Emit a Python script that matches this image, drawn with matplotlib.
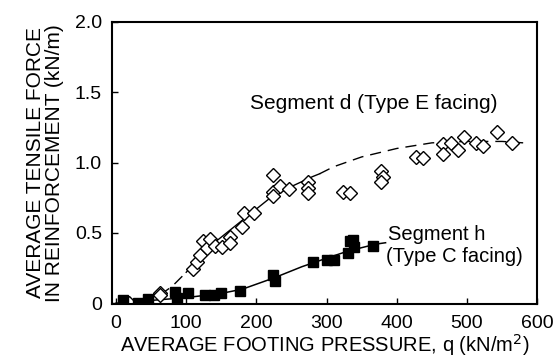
import numpy as np
import matplotlib
matplotlib.use("Agg")
import matplotlib.pyplot as plt

plt.rcParams['font.family'] = ['Liberation Sans', 'DejaVu Sans']

# Segment d (Type E facing) - open diamonds
d_q = [19, 63, 63, 110, 116, 120, 124, 130, 134, 141, 151, 163, 163, 179, 183, 196,
       223, 224, 224, 234, 246, 273, 274, 274, 324, 334, 377, 380, 377, 427, 437,
       466, 466, 477, 487, 496, 513, 523, 543, 564]
d_t = [0.00, 0.07, 0.06, 0.24, 0.29, 0.34, 0.44, 0.39, 0.46, 0.41, 0.40, 0.47, 0.43,
       0.54, 0.64, 0.64, 0.91, 0.79, 0.76, 0.83, 0.81, 0.86, 0.82, 0.78, 0.79, 0.78,
       0.94, 0.90, 0.86, 1.04, 1.03, 1.13, 1.06, 1.14, 1.09, 1.18, 1.14, 1.12, 1.22, 1.14]

# Segment h (Type C facing) - filled squares
h_q = [10, 31, 46, 84, 87, 103, 127, 139, 149, 177, 224, 227, 280, 301, 310, 330,
       334, 337, 339, 366]
h_t = [0.02, 0.00, 0.03, 0.08, 0.04, 0.07, 0.06, 0.06, 0.07, 0.09, 0.20, 0.16, 0.29,
       0.31, 0.31, 0.36, 0.44, 0.45, 0.40, 0.41]

# trend lines
d_line_q = [40, 60, 80, 100, 120, 140, 160, 180, 200, 220, 250, 280, 290, 310, 350,
            400, 450, 500, 550, 580]
d_line_t = [0.00, 0.05, 0.12, 0.22, 0.33, 0.43, 0.51, 0.59, 0.67, 0.75, 0.83, 0.90,
            0.92, 0.97, 1.04, 1.10, 1.14, 1.15, 1.15, 1.14]
h_line_q = [0, 50, 100, 150, 180, 225, 265, 300, 330, 370, 384]
h_line_t = [0.00, 0.02, 0.04, 0.07, 0.10, 0.18, 0.26, 0.32, 0.37, 0.42, 0.43]

fig = plt.figure(figsize=(5.59, 3.64), dpi=100)
ax = fig.add_axes([0.200, 0.165, 0.761, 0.775])

dash = (0, (8, 5))
# dashed where no data, solid through the measured points
ax.plot(d_line_q[:4], d_line_t[:4], color='black', lw=1.0, ls=dash)
ax.plot(d_line_q[3:13], d_line_t[3:13], color='black', lw=1.0)
ax.plot(d_line_q[12:], d_line_t[12:], color='black', lw=1.0, ls=dash)
ax.plot(h_line_q, h_line_t, color='black', lw=1.1)

ax.plot(d_q, d_t, 'D', mfc='white', mec='black', mew=1.0, ms=7.5, ls='none')
ax.plot(h_q, h_t, 's', mfc='black', mec='black', ms=7, ls='none')

ax.text(191, 1.42, 'Segment d (Type E facing)', fontsize=15, va='center')
ax.text(388, 0.485, 'Segment h', fontsize=14.5, va='center')
ax.text(385, 0.33, '(Type C facing)', fontsize=14.5, va='center')

ax.set_xlim(-6, 600)
ax.set_ylim(-0.005, 2.0)
ax.set_xticks([0, 100, 200, 300, 400, 500, 600])
ax.set_yticks([0, 0.5, 1.0, 1.5, 2.0])
ax.set_yticklabels(['0', '0.5', '1.0', '1.5', '2.0'])
ax.tick_params(direction='in', length=4, width=1, labelsize=14)
ax.tick_params(axis='x', pad=8)
ax.tick_params(axis='y', pad=7)
for s in ax.spines.values():
    s.set_linewidth(1.5)

ax.set_xlabel('AVERAGE FOOTING PRESSURE, q (kN/m$^2$)', fontsize=14.5, labelpad=0)
ax.set_ylabel('AVERAGE TENSILE FORCE\nIN REINFORCEMENT (kN/m)', fontsize=15,
              linespacing=1.0, labelpad=8)

fig.savefig('out.png', dpi=100)
